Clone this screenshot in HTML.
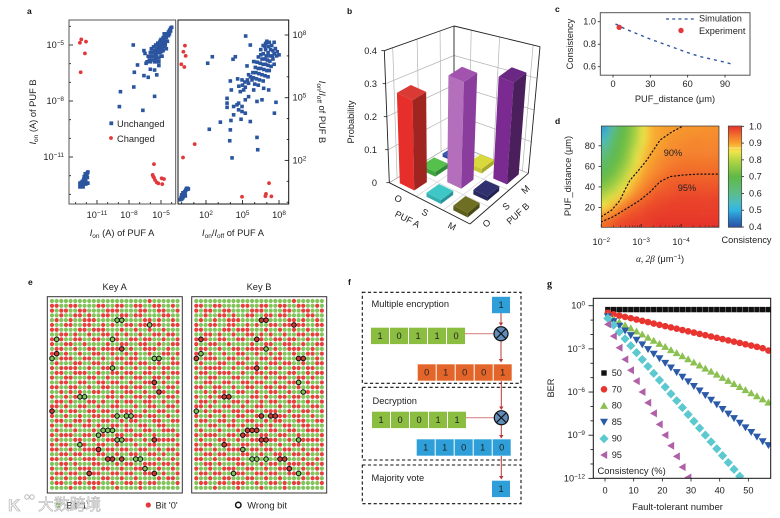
<!DOCTYPE html>
<html lang="en">
<head>
<meta charset="utf-8">
<title>PUF figure</title>
<style>
html,body{margin:0;padding:0;background:#fff;}
#chart{display:block;width:780px;height:518px;font-family:"Liberation Sans","Noto Sans CJK SC",sans-serif;filter:blur(0.3px);}
#chart text{fill:#222;font-size:9.2px;}
#chart .pl{font-size:8.5px;font-weight:700;fill:#111;}
#chart .lb{font-size:9.3px;}
</style>
</head>
<body>
<svg id="chart" xmlns="http://www.w3.org/2000/svg" width="780" height="518" viewBox="0 0 780 518">
<defs>
<clipPath id="clipD"><rect x="601.3" y="126" width="117.7" height="101.3"/></clipPath>
<clipPath id="clipG"><rect x="593.3" y="298.3" width="177.4" height="180"/></clipPath>
<filter id="heatBlur" x="-10%" y="-10%" width="120%" height="120%"><feGaussianBlur stdDeviation="3.8"/></filter>
<linearGradient id="cbGrad" x1="0" y1="1" x2="0" y2="0"></linearGradient>
</defs>
<rect width="780" height="518" fill="#fff"/>

<text class="pl" x="27" y="14">a</text>
<text class="pl" x="347" y="14">b</text>
<text class="pl" x="555" y="12">c</text>
<text class="pl" x="555" y="124">d</text>
<text class="pl" x="28" y="285">e</text>
<text class="pl" x="348" y="285">f</text>
<text class="pl" x="547" y="287" style="font-family:'Liberation Serif',serif;font-size:10px">g</text>

<g id="pa"></g>
<g id="pb"></g>
<g id="pc"></g>
<g id="pd"></g>
<g id="pe"></g>
<g id="pf"></g>
<g id="pg"></g>

<!-- panel a labels -->
<text class="lb" x="122" y="236" text-anchor="middle"><tspan font-style="italic">I</tspan><tspan dy="2" font-size="6.5">on</tspan><tspan dy="-2"> (A) of PUF A</tspan></text>
<text class="lb" x="233" y="236" text-anchor="middle"><tspan font-style="italic">I</tspan><tspan dy="2" font-size="6.5">on</tspan><tspan dy="-2">/</tspan><tspan font-style="italic">I</tspan><tspan dy="2" font-size="6.5">off</tspan><tspan dy="-2"> of PUF A</tspan></text>
<text class="lb" transform="translate(36,112) rotate(-90)" text-anchor="middle"><tspan font-style="italic">I</tspan><tspan dy="2" font-size="6.5">on</tspan><tspan dy="-2"> (A) of PUF B</tspan></text>
<text class="lb" transform="translate(319,112) rotate(90)" text-anchor="middle"><tspan font-style="italic">I</tspan><tspan dy="2" font-size="6.5">on</tspan><tspan dy="-2">/</tspan><tspan font-style="italic">I</tspan><tspan dy="2" font-size="6.5">off</tspan><tspan dy="-2"> of PUF B</tspan></text>
<rect x="109.4" y="121.4" width="3.8" height="3.8" fill="#2b559f"/>
<text class="lb" x="117" y="127">Unchanged</text>
<circle cx="111" cy="138" r="1.9" fill="#e2383a"/>
<text class="lb" x="117" y="142">Changed</text>

<!-- panel b labels -->
<text transform="translate(354,122) rotate(-90)" text-anchor="middle">Probability</text>
<text transform="translate(406,222) rotate(27)" text-anchor="middle">PUF A</text>
<text transform="translate(520,216) rotate(-42)" text-anchor="middle">PUF B</text>

<!-- panel c labels -->
<text class="lb" x="675" y="102" text-anchor="middle">PUF_distance (μm)</text>
<text class="lb" transform="translate(573,44) rotate(-90)" text-anchor="middle">Consistency</text>
<line x1="666" y1="19" x2="696" y2="19" stroke="#2b559f" stroke-width="1.3" stroke-dasharray="3 3.2"/>
<text x="699" y="21.5">Simulation</text>
<circle cx="681" cy="30.5" r="2.7" fill="#e2383a"/>
<text x="699" y="34">Experiment</text>

<!-- panel d labels -->
<text class="lb" x="660" y="262" text-anchor="middle"><tspan font-family="Liberation Serif" font-style="italic">α, 2β</tspan> (μm<tspan dy="-3" font-size="6.5">−1</tspan><tspan dy="3">)</tspan></text>
<text class="lb" transform="translate(571,176) rotate(-90)" text-anchor="middle">PUF_distance (μm)</text>
<text x="746.5" y="243" text-anchor="middle">Consistency</text>
<text x="673" y="156" text-anchor="middle">90%</text>
<text x="687" y="191" text-anchor="middle">95%</text>

<!-- panel e labels -->
<text class="lb" x="114.7" y="290" text-anchor="middle">Key A</text>
<text class="lb" x="259" y="290" text-anchor="middle">Key B</text>
<rect x="56" y="503" width="4.6" height="4.6" fill="#7cbf52"/>
<text class="lb" x="66.5" y="508.5">Bit '1'</text>
<circle cx="148.3" cy="505" r="2.6" fill="#e2383a"/>
<text class="lb" x="155.5" y="508.5">Bit '0'</text>
<circle cx="238.3" cy="505" r="2.7" fill="#fff" stroke="#111" stroke-width="1.5"/>
<text class="lb" x="247.3" y="508.5">Wrong bit</text>
<g opacity="0.95">
<text x="8" y="511" style="font-size:17px;font-weight:700;fill:#f2f2f2;stroke:#aaa;stroke-width:.6">K</text>
<circle cx="27" cy="497" r="2.2" fill="none" stroke="#b4b4b4"/>
<circle cx="32" cy="497" r="2.2" fill="none" stroke="#b4b4b4"/>
<text x="38" y="510" style="font-size:15.8px;fill:#f2f2f2;stroke:#aaa;stroke-width:.5">大数跨境</text>
</g>

<!-- panel f labels -->
<text class="lb" x="371.5" y="307">Multiple encryption</text>
<text class="lb" x="372.5" y="404">Decryption</text>
<text class="lb" x="371.5" y="481">Majority vote</text>

<!-- panel g labels -->
<text style="font-size:9.5px" x="677.5" y="510" text-anchor="middle">Fault-tolerant number</text>
<text transform="translate(554,388) rotate(-90)" text-anchor="middle">BER</text>
<text style="font-size:9.4px" x="597.5" y="474">Consistency (%)</text>
</svg>

<script>
/* ---------- panel a data (log10 values) ---------- */
const ionBlue=[[-7.6,-5],[-6.6,-5.3],[-6.5,-5.45],[-7.2,-6.07],[-7.5,-6.46],[-6.4,-5.98],[-6,-6.3],[-5.6,-6.34],[-5.2,-6.1],[-6.6,-6.64],[-6.2,-6.73],[-5.4,-6.6],[-8.8,-7.5],[-7.55,-7.25],[-5.6,-7.75],[-8.9,-8.3],[-6.7,-8.5],
[-6.3,-5.9],[-6.2,-5.6],[-6.1,-5.8],[-6,-5.4],[-6,-5.9],[-5.9,-5.6],[-5.9,-5.2],[-5.8,-5.8],[-5.8,-5.4],[-5.7,-5.6],[-5.7,-5.1],[-5.6,-5.9],[-5.6,-5.3],[-5.5,-5.5],[-5.5,-5],[-5.5,-5.75],[-5.4,-5.2],[-5.4,-5.6],[-5.3,-4.9],[-5.3,-5.4],[-5.2,-5.7],[-5.2,-5.1],[-5.1,-5.4],[-5.1,-4.8],[-5,-5],[-5,-5.6],[-5,-4.7],[-4.9,-5.2],[-4.9,-4.9],[-4.8,-4.6],[-4.8,-5.3],[-4.8,-5],[-4.7,-4.7],[-4.7,-5.1],[-4.7,-4.4],[-4.6,-4.9],[-4.6,-4.5],[-4.5,-4.6],[-4.5,-5.2],[-4.4,-4.4],[-4.4,-4.8],[-4.3,-4.3],[-4.3,-4.5],[-4.2,-4.2],[-4.2,-4.4],[-4.1,-4.1],[-4.1,-4.25],[-4,-4.05],[-5.2,-5.9],[-5.4,-5.9],[-4.9,-5.6],[-5.6,-5.6],[-4.6,-5],[-5.15,-5.25],[-5.25,-5],[-4.95,-5.35],[-4.75,-4.8],[-5.45,-5.35],[-5.05,-5.15],[-4.85,-4.75],
[-12.6,-12.6],[-12.55,-12.45],[-12.5,-12.55],[-12.45,-12.35],[-12.4,-12.5],[-12.35,-12.3],[-12.3,-12.45],[-12.25,-12.2],[-12.2,-12.4],[-12.15,-12.15],[-12.1,-12.05],[-12.05,-12.3],[-12,-12],[-11.95,-11.95],[-11.9,-11.85],[-11.85,-11.8],[-12.05,-12.45],[-11.9,-12.4],[-11.85,-12.4],[-12.6,-12.4],[-12.3,-12.6],[-12.1,-11.9],[-11.9,-12.1],[-12.2,-12.05]];
const ionRed=[[-12.6,-4.88],[-12.47,-4.7],[-12.03,-4.82],[-12.13,-5.45],[-12.53,-6.46],[-5.66,-11.38],[-5.78,-11.96],[-5.66,-12.1],[-5.56,-12.23],[-5.4,-12.36],[-5.25,-12.41],[-4.88,-12.45],[-4.94,-12.14],[-4.72,-12.18],[-5.72,-12.05]];
const ratioBlue=[[5.26,7.95],[5.64,7.52],[4.41,6.96],[4.22,6.84],[2.52,6.96],[2.14,6.65],[5.92,6.73],[5.37,6.52],[4,5.8],[4.6,5.9],[4.96,5.85],[4.08,5.37],[3.73,4.97],[3.73,4.74],[3.73,4.54],[4.27,4.18],[3.18,3.83],[4.05,3.91],[2.27,3.49],[4,3.46],[3.95,2.94],[6.19,3.1],[6.25,2.51],[4.14,2.12],[7.75,4.78],[7.62,4.26],[5.64,3.86],[4.88,3.97],
[4.68,4.74],[4.96,4.58],[5.23,4.9],[5.5,5.05],[5.92,5.37],[6.74,5.45],[7.15,5.37],[6.19,4.82],[6.6,4.9],[5.1,5.37],[5.5,5.69],[5.78,5.85],[5.23,4.26],[4.68,4.42],[4.96,4.34],[4.55,4.66],[4.27,4.58],[5.23,5.5],[4.82,5.29],
[6.9,7.6],[7.05,7.65],[7,7.7],[7.2,7.65],[7.6,7.65],[6.7,7.5],[6.85,7.45],[7.15,7.45],[7.4,7.5],[7.7,7.35],[7.85,7.2],[8,7.05],[6.5,7.3],[6.9,7.3],[7.3,7.3],[7.5,7.25],[7.1,7.15],[6.7,7.1],[6.5,7.05],[6.95,7],[7.25,7],[7.45,7],[7.6,7.1],[7.8,7],[6.3,6.95],[6.6,6.85],[6.85,6.85],[7.05,6.8],[7.25,6.75],[7.5,6.85],[6.2,6.7],[6.45,6.65],[6.7,6.6],[6.9,6.6],[7.1,6.55],[7.35,6.5],[7.6,6.6],[6.05,6.45],[6.3,6.4],[6.5,6.4],[6.75,6.35],[7,6.3],[7.2,6.3],[5.85,6.2],[6.1,6.2],[6.35,6.15],[6.6,6.1],[6.85,6.05],[7.1,6],[5.65,6],[5.9,5.95],[6.15,5.9],[6.4,5.85],[6.7,5.8],[5.5,6.1],[5.4,5.85],[5.2,5.75],[4.7,5.55],[5,5.6],[6,5.65],[6.3,5.6],
[-0.1,0.12],[-0.05,0.22],[0,0.15],[0.02,0.28],[0.05,0.2],[0.08,0.33],[0.1,0.22],[0.12,0.38],[0.16,0.3],[0.18,0.44],[0.22,0.36],[0.25,0.5],[0.28,0.42],[0.32,0.55],[0.36,0.6],[0.4,0.65],[0.45,0.67],[0.5,0.62],[0.55,0.64],[0.3,0.3],[0,0.35],[0.1,0.45]];
const ratioRed=[[0.27,7.49],[0.14,7.2],[0.33,7],[-0.03,6.6],[0.22,6.47],[1.07,2.78],[0.11,2.14],[4.96,0.26],[7.18,0.91],[6.93,0.4],[6.88,0.29],[7.37,0.28]];
const ionTicks=[-11,-8,-5];
const ratioTicks=[2,5,8];

/* ---------- panel b data ---------- */
const pufCats=['O','S','M'];
const probTicks=[0,0.1,0.2,0.3,0.4];
const probO=[0.275,0.014,0.01];
const probS=[0.012,0.325,0.014];
const probM=[0.014,0.014,0.31];
const barColors=[
 [['#d93a33','#e62e2a','#a02420'],['#55c04c','#3fa63f','#2f8a35'],['#3558b0','#2f4f9e','#263f80']],
 [['#3fc6c6','#35aeb0','#2a9296'],['#a253ad','#b36fbb','#8a3d9c'],['#d9d93e','#c8c835','#a8a82a']],
 [['#6f6f24','#5e5e1c','#4a4a16'],['#30306f','#2a2a62','#222250'],['#6a2783','#7a2a90','#4a1f5c']]];

/* ---------- panel c data ---------- */
const simDistance=[2,10,20,30,40,50,60,70,80,90,97];
const simConsistency=[0.98,0.935,0.89,0.845,0.805,0.765,0.725,0.69,0.665,0.64,0.618];
const expDistance=[5];
const expConsistency=[0.95];
const cXTicks=[0,30,60,90];
const cYTicks=[0.6,0.8,1.0];

/* ---------- panel d data ---------- */
const heatExponents=[-2.08,-2.24,-2.41,-2.57,-2.74,-2.9,-3.07,-3.23,-3.39,-3.56,-3.72,-3.89,-4.05,-4.21,-4.38,-4.54,-4.71,-4.87];
const heatDistances=[95.8,87.7,79.6,71.1,63,54.6,46.5,38.4,30,21.8,13.7,5.3];
const heatValues=[
[.48,.58,.66,.70,.74,.79,.85,.885,.895,.90,.905,.905,.91,.91,.91,.915,.915,.915],
[.53,.62,.68,.71,.75,.80,.85,.885,.895,.90,.91,.915,.915,.92,.92,.92,.92,.92],
[.58,.65,.69,.72,.76,.82,.86,.89,.90,.905,.915,.92,.92,.925,.925,.925,.925,.925],
[.62,.67,.70,.73,.78,.84,.875,.895,.905,.915,.925,.93,.93,.93,.93,.93,.93,.93],
[.65,.69,.72,.75,.80,.85,.89,.90,.915,.925,.93,.935,.94,.94,.94,.94,.94,.94],
[.68,.71,.74,.78,.83,.87,.90,.91,.925,.935,.945,.95,.95,.95,.95,.95,.95,.95],
[.71,.74,.77,.81,.86,.89,.91,.925,.94,.95,.955,.96,.96,.96,.96,.96,.96,.96],
[.75,.78,.81,.85,.885,.91,.93,.945,.955,.96,.965,.97,.97,.97,.97,.97,.97,.97],
[.80,.83,.86,.89,.915,.935,.95,.96,.97,.975,.975,.98,.98,.98,.98,.98,.98,.98],
[.85,.875,.905,.93,.95,.96,.97,.975,.98,.98,.985,.985,.985,.985,.985,.985,.985,.985],
[.90,.925,.945,.96,.97,.975,.98,.985,.985,.99,.99,.99,.99,.99,.99,.99,.99,.99],
[.945,.96,.975,.98,.985,.99,.99,.99,.995,.995,.995,.995,.995,.995,.995,.995,.995,.995]];
const contour90Exp=[-2,-2.26,-2.47,-2.59,-2.72,-2.93,-3.14,-3.31,-3.47,-3.77,-4.04];
const contour90Dist=[11,17.4,27,37,46.6,56,66,76,85.5,93.6,99];
const contour95Exp=[-2,-2.3,-2.64,-2.97,-3.22,-3.47,-3.72,-4.05,-4.39,-4.95];
const contour95Dist=[6,11,19,27,35,45,50,51.5,52.4,52.4];
const dXTicks=[-2,-3,-4];
const dYTicks=[20,40,60,80];
const cbTicks=[0.4,0.5,0.6,0.7,0.8,0.9,1.0];
const cmapVals=[0.4,0.45,0.5,0.55,0.6,0.7,0.8,0.85,0.875,0.9,0.95,1.0];
const cmapCols=['#2b4fa0','#2a7cc4','#30b4e2','#4cbcc0','#5cbc8c','#5fb946','#b8d643','#f0e64a','#f8c23a','#f7a02e','#f26a2c','#e5302c'];

/* ---------- panel e data: 1 = green bit, 0 = red bit ---------- */
const keyBits=[
"1111111111111111111110111111",
"0011001111001100110011001101",
"0100110011110001111001100110",
"1101100101100110010011110011",
"1011011000111100111100101101",
"0110011001101011001001001100",
"0011110010001110110110110111",
"1100101101100101011011001001",
"0101100110011001100100110110",
"0110011011110110011001101100",
"1001101100100001101100011011",
"0010110110011011010110110010",
"0100011001101100100111001101",
"1011100110011011001001101100",
"0100001101100110110110010011",
"1001100011011001001100110100",
"0110011100110110110011001011",
"1100110011001001101100110110",
"0011001101100110010011011001",
"1101010110011011001101100110",
"0110100011110010110010011001",
"1001011100101101001100110110",
"0010110011011001110110011001",
"1101001100100110001101100110",
"0110110110011001110010011011",
"1001100101100110100111001100",
"0110011001011001011001100111",
"1011101110110011001100110001",
"0100011001001100110011011110",
"1011100110110011001101100001",
"0100110011001101110110011110",
"0011011000110010011001101001",
"1100100111001101100110010110",
"0011011000110010110011101101",
"1100101110011101001100010010",
"0110110001100110110011101101",
"1001001110011001001100010110",
"0110110011100110110111101001",
"1001100100011011001010011110",
"1111011110111101111011111111"];
const wrongCols=[14,15,21,1,13,15,1,0,22,23,13,22,23,6,7,0,14,16,17,11,12,13,10,14,15,22,6,10,12,13,15,18,19,20,8,22];
const wrongRows=[4,4,5,8,8,10,11,12,12,12,14,17,19,20,20,23,24,24,24,27,27,27,28,29,29,29,30,31,33,33,33,33,33,35,36,36];
const wrongBitsA=[1,1,1,1,1,0,0,1,1,1,1,0,0,1,1,0,1,1,1,1,1,1,1,1,1,0,1,0,0,0,0,1,1,1,0,0];

/* ---------- panel f data ---------- */
const encKey=[1,0,1,1,0];
const encCipher=[0,1,0,0,1];
const decKey=[1,0,0,1,1];
const decOutput=[1,1,0,1,0];

/* ---------- panel g data (log10 BER) ---------- */
const faultTol=[1,3,5,7,9,11,13,15,17,19,21,23,25,27,29,31,33,35,37,39,41,43,45,47,49,51,53,55,57];
const ber50=[-.27,-.27,-.27,-.27,-.27,-.27,-.27,-.27,-.27,-.27,-.27,-.27,-.27,-.27,-.27,-.27,-.27,-.27,-.27,-.27,-.27,-.27,-.27,-.27,-.27,-.27,-.27,-.27,-.27];
const ber70=[-.49,-.60,-.69,-.78,-.87,-.96,-1.05,-1.14,-1.24,-1.33,-1.42,-1.51,-1.60,-1.69,-1.78,-1.87,-1.96,-2.05,-2.14,-2.23,-2.32,-2.41,-2.50,-2.59,-2.68,-2.77,-2.86,-2.95,-3.12];
const ber80=[-.7,-.92,-1.13,-1.35,-1.56,-1.78,-1.99,-2.21,-2.42,-2.64,-2.85,-3.07,-3.28,-3.5,-3.71,-3.93,-4.14,-4.36,-4.57,-4.78,-5.0,-5.21,-5.43,-5.64,-5.85,-6.07,-6.28,-6.5,-6.72];
const ber85=[-.76,-1.09,-1.41,-1.74,-2.06,-2.38,-2.7,-3.03,-3.35,-3.67,-3.99,-4.31,-4.63,-4.95,-5.27,-5.59,-5.91,-6.23,-6.55,-6.87,-7.19,-7.51,-7.83,-8.15,-8.47,-8.79,-9.11,-9.43,-9.7];
const ber90=[-.88,-1.35,-1.83,-2.3,-2.78,-3.26,-3.74,-4.22,-4.7,-5.17,-5.65,-6.13,-6.6,-7.08,-7.56,-8.03,-8.51,-8.99,-9.46,-9.94,-10.42,-10.9,-11.37,-11.85,-12.33];
const ber95=[-1.3,-2.11,-2.92,-3.73,-4.49,-5.24,-6,-6.74,-7.48,-8.25,-8.99,-9.73,-10.47,-11.22,-11.94,-12.7];
const gLegend=['50','70','80','85','90','95'];
const gXTicks=[0,10,20,30,40,50];
const gYTicks=[0,-3,-6,-9,-12];

/* ---------- helpers ---------- */
const NS='http://www.w3.org/2000/svg';
function mk(t,a,p){const e=document.createElementNS(NS,t);for(const k in a)e.setAttribute(k,a[k]);p.appendChild(e);return e;}
function pow(v){return '10<tspan dy="-3" font-size="6.4">'+String(v).replace('-','−')+'</tspan>';}
function polyPts(arr){return arr.map(p=>p[0].toFixed(2)+','+p[1].toFixed(2)).join(' ');}
function tickLine(p,x1,y1,x2,y2,w,col){
  const t=mk('line',{x1,y1,x2,y2,stroke:col||'#222','stroke-width':w||0.8},p);
  
  
  return t;
}
function label(p,x,y,html,anchor,size){
  const t=mk('text',{x,y,'text-anchor':anchor||'middle'},p);
  
  
  t.innerHTML=html;
  if(size)t.style.fontSize=size+'px';
  return t;
}
function frame(p,x,y,w,h,col,sw){
  const r=mk('rect',{x,y,width:w,height:h,fill:'none',stroke:col,'stroke-width':sw},p);
  
  
  return r;
}

/* ---------- panel a ---------- */
(function(){
  const p=document.getElementById('pa');
  const ax=v=>161+(v+5)*10.67, ay=v=>45+(-5-v)*18.67;
  const rx=v=>206+(v-2)*12.17, ry=v=>35+(8-v)*20.9;
  for(let d=-13;d<=-4;d++){tickLine(p,ax(d),204,ax(d),d%3===-2?200:202,0.9);}
  for(let d=-13;d<=-4;d++){tickLine(p,69,ay(d),(d%3===-2)?73:71,ay(d),0.9);}
  for(let d=0;d<=8;d++){tickLine(p,rx(d),204,rx(d),d%3===2?200:202,0.9);}
  for(let d=0;d<=8;d++){tickLine(p,288.7,ry(d),d%3===2?284.7:286.7,ry(d),0.9);}
  ionTicks.forEach(v=>{label(p,ax(v),218,pow(v));label(p,64,ay(v)+3,pow(v),'end');});
  ratioTicks.forEach(v=>{label(p,rx(v),218,pow(v));label(p,292.5,ry(v)+3,pow(v),'start');});
  ionBlue.forEach(d=>{
    const m=mk('rect',{x:ax(d[0])-1.8,y:ay(d[1])-1.8,width:3.6,height:3.6,fill:'#2b559f'},p);
    
    
  });
  ionRed.forEach(d=>{
    const m=mk('circle',{cx:ax(d[0]),cy:ay(d[1]),r:1.9,fill:'#e2383a'},p);
    
    
  });
  ratioBlue.forEach(d=>{
    const m=mk('rect',{x:rx(d[0])-1.8,y:ry(d[1])-1.8,width:3.6,height:3.6,fill:'#2b559f'},p);
    
    
  });
  ratioRed.forEach(d=>{
    const m=mk('circle',{cx:rx(d[0]),cy:ry(d[1]),r:1.9,fill:'#e2383a'},p);
    
    
  });
  frame(p,69,20,106.7,184,'#555',1);
  frame(p,178,20,110.7,184,'#111',1);
})();

/* ---------- panel b ---------- */
(function(){
  const p=document.getElementById('pb');
  const L=[148,548],F=[390,672],R=[565,520],B=[342,432];
  const zs=985;
  function floor(u,v){return [(1-u)*(1-v)*L[0]+u*(1-v)*F[0]+u*v*R[0]+(1-u)*v*B[0],(1-u)*(1-v)*L[1]+u*(1-v)*F[1]+u*v*R[1]+(1-u)*v*B[1]];}
  function pr(u,v,z){const f=floor(u,v);const fx=f[0]+(f[0]-285)*z*0.3;return [340+fx/3,(f[1]-z*zs)/3];}
  const TL=[133,152],TB=[342,78],TR=[600,140];
  const toPx=q=>[340+q[0]/3,q[1]/3];
  const mix=(a,b,t)=>[a[0]+(b[0]-a[0])*t,a[1]+(b[1]-a[1])*t];
  function gl(a,b,col,w){
    const A=toPx(a),C=toPx(b);
    const l=mk('line',{x1:A[0],y1:A[1],x2:C[0],y2:C[1],stroke:col,'stroke-width':w},p);
    
    
  }
  for(let k=1;k<=3;k++){
    const t=k/4;
    gl(mix(L,TL,t),mix(B,TB,t),'#b4b4b4',.7);
    gl(mix(B,TB,t),mix(R,TR,t),'#b4b4b4',.7);
  }
  [0.12,0.47,0.8].forEach(t=>{gl(mix(L,B,t),mix(TL,TB,t),'#b4b4b4',.7);});
  [0.2,0.53,0.92].forEach(t=>{gl(mix(B,R,t),mix(TB,TR,t),'#b4b4b4',.7);});
  gl(L,B,'#999',.7);gl(B,R,'#999',.7);
  [1/3,2/3].forEach(t=>{gl(mix(L,F,t),mix(B,R,t),'#ccc',.6);gl(mix(F,R,t),mix(L,B,t),'#ccc',.6);});
  gl(TL,TB,'#222',.9);gl(TB,TR,'#222',.9);gl(TB,B,'#222',.9);gl(TR,R,'#222',.9);gl(TL,L,'#222',.9);
  gl(L,F,'#222',.9);gl(F,R,'#222',.9);
  probTicks.forEach(v=>{
    const q=toPx(mix(L,TL,v/0.4));
    tickLine(p,q[0],q[1],q[0]-3,q[1],.8);
    label(p,377,q[1]+3.5,v===0?'0':v.toFixed(1),'end');
  });
  pufCats.forEach((c,i)=>{
    const q=toPx(mix(L,F,(i+.5)/3));
    const t=label(p,q[0]-6,q[1]+12,c);
    t.setAttribute('transform','rotate(27 '+(q[0]-6)+' '+(q[1]+12)+')');
    const r=toPx(mix(F,R,(i+.5)/3));
    const t2=label(p,r[0]+9,r[1]+10,c);
    t2.setAttribute('transform','rotate(-42 '+(r[0]+9)+' '+(r[1]+10)+')');
  });
  const rows=[probO,probS,probM];
  const cells=[];
  rows.forEach((row,a)=>row.forEach((val,b)=>cells.push({a,b,val})));
  cells.sort((m,n)=>(m.a-m.b)-(n.a-n.b));
  const hu=0.09,hv=0.1;
  cells.forEach(c=>{
    const u=(c.a+.5)/3,v=(c.b+.5)/3,z=c.val,cols=barColors[c.a][c.b];
    const fL=pr(u-hu,v-hv,0),fF=pr(u+hu,v-hv,0),fR=pr(u+hu,v+hv,0);
    const tL=pr(u-hu,v-hv,z),tF=pr(u+hu,v-hv,z),tR=pr(u+hu,v+hv,z),tB=pr(u-hu,v+hv,z);
    const g=mk('g',{},p);
    
    
    const a=mk('polygon',{points:polyPts([fL,fF,tF,tL]),fill:cols[1]},g);
    
    
    const b=mk('polygon',{points:polyPts([fF,fR,tR,tF]),fill:cols[2]},g);
    
    
    const d=mk('polygon',{points:polyPts([tL,tF,tR,tB]),fill:cols[0]},g);
    
    
  });
})();

/* ---------- panel c ---------- */
(function(){
  const p=document.getElementById('pc');
  const x=v=>613+v*1.2444, y=v=>21.7+(1-v)*112.5;
  frame(p,600.3,12.7,149.7,62.5,'#555',1);
  cXTicks.forEach(v=>{tickLine(p,x(v),75,x(v),77.5,.8);label(p,x(v),87,String(v));});
  cYTicks.forEach(v=>{tickLine(p,600.3,y(v),597.8,y(v),.8);label(p,596,y(v)+3,v.toFixed(1),'end');});
  const l=mk('polyline',{points:polyPts(simDistance.map((d,i)=>[x(d),y(simConsistency[i])])),fill:'none',stroke:'#2b559f','stroke-width':1.4,'stroke-dasharray':'3 4'},p);
  
  
  expDistance.forEach((d,i)=>{
    const c=mk('circle',{cx:x(d),cy:y(expConsistency[i]),r:2.7,fill:'#e2383a'},p);
    
    
  });
})();

/* ---------- panel d ---------- */
function heatColor(v){
  let i=0;while(i<cmapVals.length-2&&v>cmapVals[i+1])i++;
  const t=Math.max(0,Math.min(1,(v-cmapVals[i])/(cmapVals[i+1]-cmapVals[i])));
  const h=s=>[parseInt(s.slice(1,3),16),parseInt(s.slice(3,5),16),parseInt(s.slice(5,7),16)];
  const a=h(cmapCols[i]),b=h(cmapCols[i+1]);
  return 'rgb('+a.map((c,k)=>Math.round(c+(b[k]-c)*t)).join(',')+')';
}
(function(){
  const p=document.getElementById('pd');
  const x=e=>601.3-(e+2)*39.9, y=d=>228-d*1.0275;
  const clip=mk('g',{'clip-path':'url(#clipD)'},p);
  
  
  const blur=mk('g',{filter:'url(#heatBlur)'},clip);
  
  
  heatValues.forEach((row,j)=>row.forEach((val,i)=>{
    const cw=6.6,ch=8.5;
    let x0=x(heatExponents[i])-cw/2,y0=y(heatDistances[j])-ch/2,w=cw+.4,h=ch+.4;
    if(i===0){x0-=12;w+=12;}
    if(i===row.length-1){w+=12;}
    if(j===0){y0-=12;h+=12;}
    if(j===heatValues.length-1){h+=12;}
    const c=mk('rect',{x:x0,y:y0,width:w,height:h,fill:heatColor(val)},blur);
    
    
  }));
  const c90=mk('polyline',{points:polyPts(contour90Exp.map((e,i)=>[x(e),y(contour90Dist[i])])),fill:'none',stroke:'#111','stroke-width':1.2,'stroke-dasharray':'1.2 2.6','stroke-linecap':'round'},clip);
  
  
  const c95=mk('polyline',{points:polyPts(contour95Exp.map((e,i)=>[x(e),y(contour95Dist[i])])),fill:'none',stroke:'#111','stroke-width':1.2,'stroke-dasharray':'1.2 2.6','stroke-linecap':'round'},clip);
  
  
  dXTicks.forEach(e=>{
    tickLine(p,x(e),227.3,x(e),224,.9);
    label(p,x(e),245,pow(e));
    for(let k=2;k<10;k++){const xx=x(e-Math.log10(k));if(xx<719)tickLine(p,xx,227.3,xx,225.5,.6);}
  });
  dYTicks.forEach(v=>{tickLine(p,601.3,y(v),598.5,y(v),.8);label(p,595,y(v)+3,String(v),'end');});
  frame(p,601.3,126,117.7,101.3,'#333',.7);
  /* colour bar */
  const grad=document.getElementById('cbGrad');
  cmapVals.forEach((v,i)=>{
    const s=mk('stop',{offset:((v-.4)/.6),'stop-color':cmapCols[i]},grad);
    
    
  });
  const cb=mk('rect',{x:728.3,y:126,width:13.4,height:101.3,fill:'url(#cbGrad)',stroke:'#444','stroke-width':.7},p);
  
  
  const wl=mk('line',{x1:728.6,x2:741.4,y1:148,y2:148,stroke:'#fbe9a8','stroke-width':.8},p);
  
  
  cbTicks.forEach(v=>{
    const yy=227-(v-.4)/.6*100.7;
    tickLine(p,741.7,yy,744,yy,.8);
    label(p,749,yy+3,v.toFixed(1),'start');
  });
})();

/* ---------- panel e ---------- */
(function(){
  const p=document.getElementById('pe');
  const col=c=>c*4.65, row=r=>301+r*4.79;
  function bitAt(c,r){
    for(let k=0;k<wrongCols.length;k++){if(wrongCols[k]===c&&wrongRows[k]===r)return wrongBitsA[k];}
    return keyBits[r][c]==='1'?1:0;
  }
  function draw(x0,flip,box){
    const g=mk('g',{},p);
    
    
    frame(g,box,296.7,135,196.3,'#333',1);
    keyBits.forEach((s,r)=>{
      for(let c=0;c<s.length;c++){
        const b=bitAt(c,r);
        const d=mk('circle',{cx:x0+col(c),cy:row(r),r:2.1,fill:b?'#82c45a':'#e5403c'},g);
        
        
      }
    });
    wrongCols.forEach((c,k)=>{
      const b=flip?1-wrongBitsA[k]:wrongBitsA[k];
      const d=mk('circle',{cx:x0+col(c),cy:row(wrongRows[k]),r:2.3,fill:b?'#7cbf52':'#c9332f',stroke:'#111','stroke-width':1},g);
      
      
    });
  }
  draw(52,false,47.3);
  draw(196.3,true,191.7);
})();

/* ---------- panel f ---------- */
(function(){
  const p=document.getElementById('pf');
  function dash(y,h){
    const r=mk('rect',{x:362.3,y,width:158.7,height:h,fill:'none',stroke:'#111','stroke-width':1.1,'stroke-dasharray':'3.2 2.4'},p);
    
    
  }
  dash(292.3,91);dash(387.3,72.7);dash(465,38.7);
  function arrow(x,y1,y2,col){
    const l=mk('line',{x1:x,y1,x2:x,y2:y2-3,stroke:col,'stroke-width':1},p);
    
    
    const h=mk('polygon',{points:(x-2.2)+','+(y2-3.5)+' '+(x+2.2)+','+(y2-3.5)+' '+x+','+y2,fill:col},p);
    
    
  }
  function hline(x1,x2,y){
    const l=mk('line',{x1,x2,y1:y,y2:y,stroke:'#d98a8a','stroke-width':1.1},p);
    
    
  }
  function cells(vals,x0,y,fill){
    vals.forEach((v,i)=>{
      const r=mk('rect',{x:x0+i*19,y,width:18,height:16.4,fill},p);
      
      
      const t=mk('text',{x:x0+i*19+9,y:y+11.3,'text-anchor':'middle'},p);
      
      
      t.textContent=String(v);
    });
  }
  function xor(cx,cy){
    const c=mk('circle',{cx,cy,r:7,fill:'#5f8cba',stroke:'#111','stroke-width':1.2},p);
    
    
    [[-5,-5,5,5],[-5,5,5,-5]].forEach(d=>{
      const l=mk('line',{x1:cx+d[0],y1:cy+d[1],x2:cx+d[2],y2:cy+d[3],stroke:'#111','stroke-width':1.1},p);
      
      
    });
  }
  hline(465,494,333.7);hline(466,494,417.7);
  arrow(501,313,326,'#b8383a');arrow(501,341,362.5,'#b8383a');
  arrow(501.3,381,410,'#b8383a');arrow(501.3,425,438.5,'#b8383a');
  arrow(501.3,456,479.5,'#b8383a');
  cells([1],492,296.8,'#2e9fd8');
  cells(encKey,371,327.7,'#8bbd40');
  cells(encCipher,417.7,364.3,'#e4652a');
  cells(decKey,372,411.7,'#8bbd40');
  cells(decOutput,416.7,439.3,'#2e9fd8');
  cells([1],492,480.7,'#2e9fd8');
  xor(501,333.7);xor(501.3,417.7);
})();

/* ---------- panel g ---------- */
(function(){
  const p=document.getElementById('pg');
  const x=v=>605+v*2.867, y=v=>305.7-v*14.39;
  const clip=mk('g',{'clip-path':'url(#clipG)'},p);
  
  
  function square(cx,cy,par){
    const m=mk('rect',{x:cx-2.7,y:cy-2.7,width:5.4,height:5.4,fill:'#111'},par);
    
    
  }
  function circle(cx,cy,par){
    const m=mk('circle',{cx,cy,r:3.3,fill:'#e8352f'},par);
    
    
  }
  function triUp(cx,cy,par){
    const m=mk('polygon',{points:(cx-4)+','+(cy+3.2)+' '+(cx+4)+','+(cy+3.2)+' '+cx+','+(cy-3.8),fill:'#8cc152'},par);
    
    
  }
  function triDown(cx,cy,par){
    const m=mk('polygon',{points:(cx-4)+','+(cy-3.2)+' '+(cx+4)+','+(cy-3.2)+' '+cx+','+(cy+3.8),fill:'#2a5aa8'},par);
    
    
  }
  function diamond(cx,cy,par){
    const m=mk('polygon',{points:(cx-4.6)+','+cy+' '+cx+','+(cy-4.6)+' '+(cx+4.6)+','+cy+' '+cx+','+(cy+4.6),fill:'#5cc8d0'},par);
    
    
  }
  function triLeft(cx,cy,par){
    const m=mk('polygon',{points:(cx+3.2)+','+(cy-4)+' '+(cx+3.2)+','+(cy+4)+' '+(cx-3.8)+','+cy,fill:'#b060a8'},par);
    
    
  }
  const drawers=[square,circle,triUp,triDown,diamond,triLeft];
  const series=[ber50,ber70,ber80,ber85,ber90,ber95];
  series.forEach((vals,s)=>{vals.forEach((v,i)=>{drawers[s](x(faultTol[i]),y(v),clip);});});
  gYTicks.forEach(v=>{label(p,585,y(v)+3,pow(v),'end');});
  for(let d=-12;d<=0;d++){
    const major=d%3===0;
    tickLine(p,593.3,y(d),major?588.5:590.5,y(d),.9);
  }
  gXTicks.forEach(v=>{tickLine(p,x(v),478.3,x(v),481.5,.8);label(p,x(v),493.3,String(v));});
  frame(p,593.3,298.3,177.4,180,'#111',1);
  const ly=[373,389.3,405.7,422,438.7,455];
  gLegend.forEach((name,i)=>{
    drawers[i](604,ly[i],p);
    const t=mk('text',{x:611.7,y:ly[i]+3},p);
    
    
    t.textContent=name;
  });
})();
</script>
</body>
</html>
